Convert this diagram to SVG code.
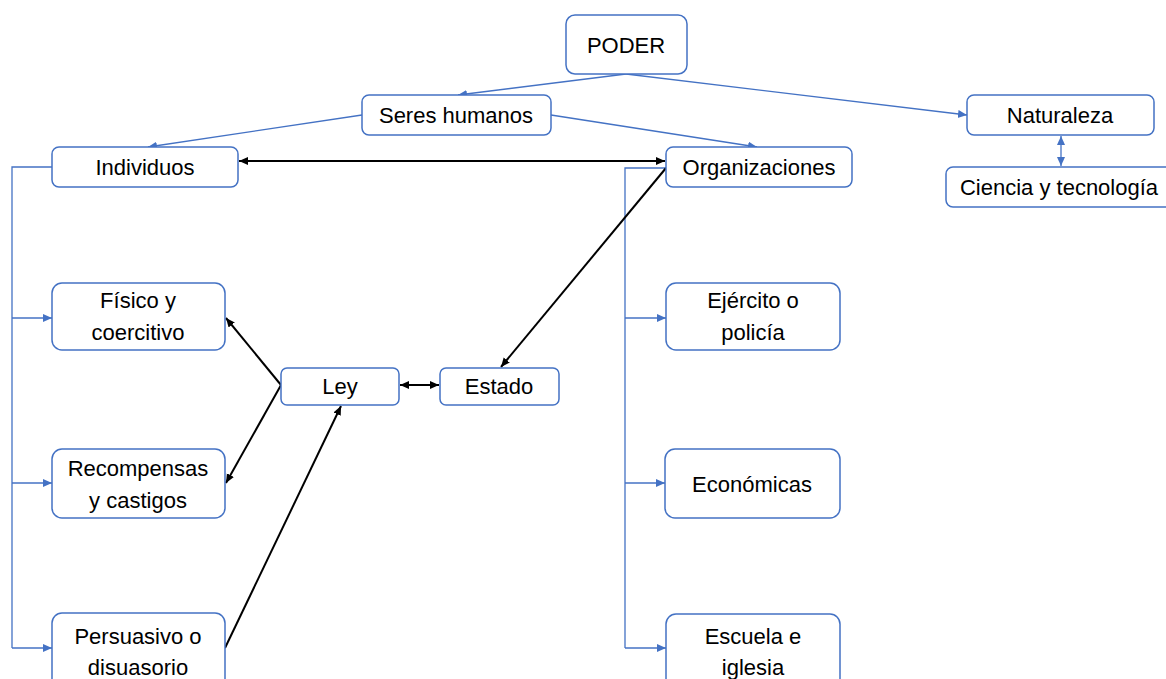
<svg xmlns="http://www.w3.org/2000/svg" width="1166" height="679" viewBox="0 0 1166 679">
<style>
.box{fill:#fff;stroke:#4472C4;stroke-width:1.5}
.t{font-family:"Liberation Sans",Arial,sans-serif;font-size:22px;fill:#000;text-anchor:middle}
.bl{fill:none;stroke:#4472C4;stroke-width:1.3}
.bk{fill:none;stroke:#000;stroke-width:2}
</style>
<defs>
<marker id="ab" markerUnits="userSpaceOnUse" markerWidth="10" markerHeight="10" refX="9" refY="4" orient="auto-start-reverse"><path d="M0,0 L9,4 L0,8 z" fill="#4472C4"/></marker>
<marker id="ak" markerUnits="userSpaceOnUse" markerWidth="10" markerHeight="10" refX="9" refY="4" orient="auto-start-reverse"><path d="M0,0 L9,4 L0,8 z" fill="#000"/></marker>
</defs>
<rect width="1166" height="679" fill="#fff"/>
<g id="connectors">
<line class="bl" x1="626" y1="74" x2="458" y2="95" marker-end="url(#ab)"/>
<line class="bl" x1="626" y1="74" x2="967" y2="115" marker-end="url(#ab)"/>
<line class="bl" x1="362" y1="115" x2="148" y2="147" marker-end="url(#ab)"/>
<line class="bl" x1="551" y1="115" x2="757" y2="147" marker-end="url(#ab)"/>
<line class="bl" x1="1061" y1="136" x2="1061" y2="166" marker-start="url(#ab)" marker-end="url(#ab)"/>
<path class="bl" d="M52,167 H12 V648"/>
<line class="bl" x1="12" y1="318" x2="52" y2="318" marker-end="url(#ab)"/>
<line class="bl" x1="12" y1="483" x2="52" y2="483" marker-end="url(#ab)"/>
<line class="bl" x1="12" y1="648" x2="52" y2="648" marker-end="url(#ab)"/>
<path class="bl" d="M666,168 H625 V648"/>
<line class="bl" x1="625" y1="318" x2="666" y2="318" marker-end="url(#ab)"/>
<line class="bl" x1="625" y1="483" x2="665" y2="483" marker-end="url(#ab)"/>
<line class="bl" x1="625" y1="648" x2="666" y2="648" marker-end="url(#ab)"/>
<line class="bk" x1="239" y1="161" x2="665" y2="161" marker-start="url(#ak)" marker-end="url(#ak)"/>
<line class="bk" x1="666" y1="168" x2="501" y2="367" marker-end="url(#ak)"/>
<line class="bk" x1="281" y1="385" x2="226" y2="318" marker-end="url(#ak)"/>
<line class="bk" x1="281" y1="385" x2="226" y2="483" marker-end="url(#ak)"/>
<line class="bk" x1="225" y1="648" x2="341" y2="406" marker-end="url(#ak)"/>
<line class="bk" x1="400" y1="385" x2="439" y2="385" stroke-width="1.5" marker-start="url(#ak)" marker-end="url(#ak)"/>
</g>
<g id="poder"><rect class="box" x="566" y="15" width="121" height="59" rx="9"/><text class="t" x="626" y="53">PODER</text></g>
<g id="seres"><rect class="box" x="362" y="95" width="189" height="40" rx="7"/><text class="t" x="456" y="123">Seres humanos</text></g>
<g id="individuos"><rect class="box" x="52" y="147" width="186" height="40" rx="7"/><text class="t" x="145" y="175">Individuos</text></g>
<g id="organizaciones"><rect class="box" x="666" y="147" width="186" height="40" rx="7"/><text class="t" x="759" y="175">Organizaciones</text></g>
<g id="naturaleza"><rect class="box" x="967" y="95" width="187" height="40" rx="7"/><text class="t" x="1060" y="123">Naturaleza</text></g>
<g id="ciencia"><rect class="box" x="946" y="167" width="226" height="40" rx="7"/><text class="t" x="1059" y="195">Ciencia y tecnología</text></g>
<g id="fisico"><rect class="box" x="52" y="283" width="173" height="67" rx="10"/><text class="t" x="138" y="308">Físico y</text><text class="t" x="138" y="340">coercitivo</text></g>
<g id="recompensas"><rect class="box" x="52" y="449" width="173" height="69" rx="10"/><text class="t" x="138" y="476">Recompensas</text><text class="t" x="138" y="508">y castigos</text></g>
<g id="persuasivo"><rect class="box" x="52" y="613" width="173" height="80" rx="10"/><text class="t" x="138" y="644">Persuasivo o</text><text class="t" x="138" y="675">disuasorio</text></g>
<g id="ley"><rect class="box" x="281" y="368" width="118" height="37" rx="6"/><text class="t" x="340" y="394">Ley</text></g>
<g id="estado"><rect class="box" x="440" y="368" width="119" height="37" rx="6"/><text class="t" x="499" y="394">Estado</text></g>
<g id="ejercito"><rect class="box" x="666" y="283" width="174" height="67" rx="10"/><text class="t" x="753" y="308">Ejército o</text><text class="t" x="753" y="340">policía</text></g>
<g id="economicas"><rect class="box" x="665" y="449" width="175" height="69" rx="10"/><text class="t" x="752" y="492">Económicas</text></g>
<g id="escuela"><rect class="box" x="666" y="614" width="174" height="80" rx="10"/><text class="t" x="753" y="644">Escuela e</text><text class="t" x="753" y="675">iglesia</text></g>
</svg>
